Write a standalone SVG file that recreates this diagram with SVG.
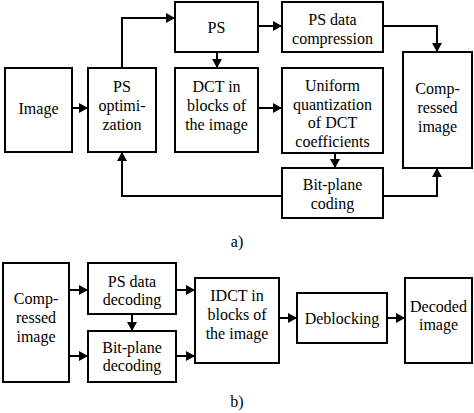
<svg xmlns="http://www.w3.org/2000/svg" width="474" height="413" viewBox="0 0 474 413">
<defs>
<marker id="ah" markerUnits="userSpaceOnUse" markerWidth="9" markerHeight="10" viewBox="0 0 9 10" refX="9" refY="5" orient="auto"><path d="M0,0 L9,5 L0,10 z" fill="#000"/></marker>
</defs>
<rect x="0" y="0" width="474" height="413" fill="#fff"/>
<g id="connectors" fill="none" stroke="#000" stroke-width="2" marker-end="url(#ah)">
<path d="M72,108 H88"/>
<path d="M122,68 V18 H175"/>
<path d="M258,26 H282"/>
<path d="M217,52 V68"/>
<path d="M258,108 H282"/>
<path d="M383,26 H437 V52"/>
<path d="M335,153 V168"/>
<path d="M383,196 H437 V168"/>
<path d="M282,196 H122 V152"/>
<path d="M69,290 H88"/>
<path d="M69,356 H88"/>
<path d="M132,314 V331"/>
<path d="M176,290 H195"/>
<path d="M176,356 H195"/>
<path d="M279,318 H297"/>
<path d="M387,318 H405"/>
</g>
<g fill="#fff" stroke="#000" stroke-width="2">
<rect id="r-image" x="5" y="68" width="67" height="84"/>
<rect id="r-psopt" x="88" y="68" width="68" height="84"/>
<rect id="r-ps" x="175" y="2" width="83" height="50"/>
<rect id="r-psdata" x="282" y="2" width="101" height="50"/>
<rect id="r-dct" x="175" y="68" width="83" height="84"/>
<rect id="r-uniform" x="282" y="68" width="101" height="85"/>
<rect id="r-compressed" x="403" y="52" width="69" height="116"/>
<rect id="r-bitplane" x="282" y="168" width="101" height="50"/>
<rect id="r-compressed-b" x="3" y="263" width="66" height="119"/>
<rect id="r-psdec" x="88" y="263" width="88" height="51"/>
<rect id="r-bpdec" x="88" y="331" width="88" height="51"/>
<rect id="r-idct" x="195" y="278" width="84" height="85"/>
<rect id="r-deblock" x="297" y="293" width="90" height="50"/>
<rect id="r-decoded" x="405" y="278" width="67" height="85"/>
</g>
<g text-anchor="middle" fill="#000">
<g id="image"><text font-family="Liberation Serif" font-size="16px" x="38.5" y="114">Image</text></g>
<g id="psopt"><text font-family="Liberation Serif" font-size="16px" x="122" y="92">PS</text><text font-family="Liberation Serif" font-size="16px" x="122" y="111">optimi-</text><text font-family="Liberation Serif" font-size="16px" x="122" y="130">zation</text></g>
<g id="ps"><text font-family="Liberation Serif" font-size="16px" x="216.5" y="33">PS</text></g>
<g id="psdata"><text font-family="Liberation Serif" font-size="16px" x="332.5" y="25">PS data</text><text font-family="Liberation Serif" font-size="16px" x="332.5" y="44">compression</text></g>
<g id="dct"><text font-family="Liberation Serif" font-size="16px" x="216.5" y="92">DCT in</text><text font-family="Liberation Serif" font-size="16px" x="216.5" y="111">blocks of</text><text font-family="Liberation Serif" font-size="16px" x="216.5" y="130">the image</text></g>
<g id="uniform"><text font-family="Liberation Serif" font-size="16px" x="332.5" y="91">Uniform</text><text font-family="Liberation Serif" font-size="16px" x="332.5" y="109.7">quantization</text><text font-family="Liberation Serif" font-size="16px" x="332.5" y="128.3">of DCT</text><text font-family="Liberation Serif" font-size="16px" x="332.5" y="147">coefficients</text></g>
<g id="compressed"><text font-family="Liberation Serif" font-size="16px" x="437.5" y="94">Comp-</text><text font-family="Liberation Serif" font-size="16px" x="437.5" y="113">ressed</text><text font-family="Liberation Serif" font-size="16px" x="437.5" y="132">image</text></g>
<g id="bitplane"><text font-family="Liberation Serif" font-size="16px" x="332.5" y="190">Bit-plane</text><text font-family="Liberation Serif" font-size="16px" x="332.5" y="209">coding</text></g>
<g id="label-a"><text font-family="Liberation Serif" font-size="16px" x="237" y="247">a)</text></g>
<g id="compressed-b"><text font-family="Liberation Serif" font-size="16px" x="36" y="304">Comp-</text><text font-family="Liberation Serif" font-size="16px" x="36" y="323">ressed</text><text font-family="Liberation Serif" font-size="16px" x="36" y="342">image</text></g>
<g id="psdec"><text font-family="Liberation Serif" font-size="16px" x="132" y="287">PS data</text><text font-family="Liberation Serif" font-size="16px" x="132" y="305">decoding</text></g>
<g id="bpdec"><text font-family="Liberation Serif" font-size="16px" x="132" y="353">Bit-plane</text><text font-family="Liberation Serif" font-size="16px" x="132" y="371">decoding</text></g>
<g id="idct"><text font-family="Liberation Serif" font-size="16px" x="237" y="301">IDCT in</text><text font-family="Liberation Serif" font-size="16px" x="237" y="320">blocks of</text><text font-family="Liberation Serif" font-size="16px" x="237" y="339">the image</text></g>
<g id="deblock"><text font-family="Liberation Serif" font-size="16px" x="342" y="324">Deblocking</text></g>
<g id="decoded"><text font-family="Liberation Serif" font-size="16px" x="438.5" y="312">Decoded</text><text font-family="Liberation Serif" font-size="16px" x="438.5" y="330">image</text></g>
<g id="label-b"><text font-family="Liberation Serif" font-size="16px" x="237" y="407">b)</text></g>
</g>
</svg>
